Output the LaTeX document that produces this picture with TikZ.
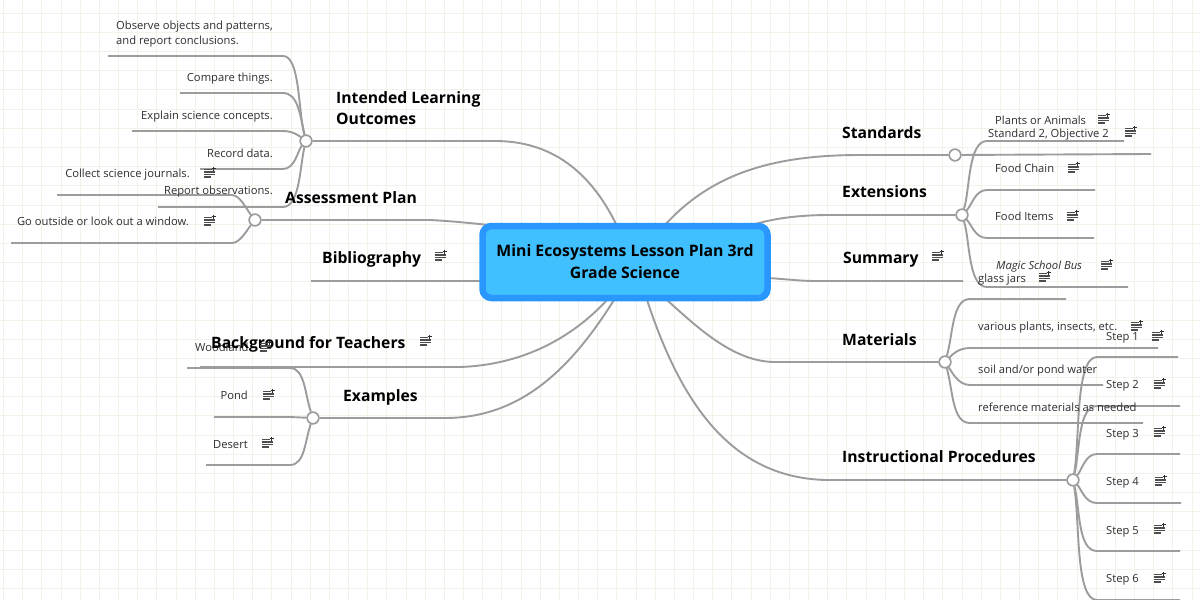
\documentclass[tikz,border=0pt]{standalone}
\usepackage{fontspec}
\setmainfont{Open Sans}
\definecolor{gridc}{HTML}{EEF4E8}
\definecolor{linec}{HTML}{9C9C9C}
\definecolor{boxfill}{HTML}{40C0FF}
\definecolor{boxdraw}{HTML}{2A97FF}
\definecolor{textc}{HTML}{2E2E2E}
\tikzset{centerbox/.style = {
    shape=rectangle, draw=boxdraw, fill=boxfill, line width=6.5pt, rounded corners=9pt,
    minimum width=285pt, minimum height=72pt, align=center, inner sep=0pt,
    font=\fontsize{15.8}{22}\selectfont\bfseries, text=black
}}
\tikzset{branch/.style = {
    shape=rectangle, inner sep=0pt, anchor=mid west, text=black, yshift=-3.5pt,
    font=\fontsize{15.7}{21.5}\selectfont\bfseries
}}
\tikzset{leaf/.style = {
    shape=rectangle, inner sep=0pt, text=textc, yshift=-2pt,
    font=\fontsize{11.2}{15}\selectfont
}}
\tikzset{knot/.style = {
    shape=circle, draw=linec, fill=white, line width=1.5pt, minimum size=11.5pt, inner sep=0pt
}}
\tikzset{twig/.style = {draw=linec, line width=1.9pt, line join=round}}
\tikzset{noteicon/.pic = {
    \draw[textc!85, line width=1.2pt] (-6,-3.5) -- (1.5,-3.5) (-6,-1) -- (4.5,-1) (-6,1.5) -- (4.5,1.5) (-6,4) -- (1,4);
    \draw[textc, line width=1pt] (3.5,-6.5) -- (3.5,-2.5) (1.5,-4.5) -- (5.5,-4.5);
}}

\begin{document}
\begin{tikzpicture}[x=1pt,y=-1pt]
  \useasboundingbox (0,0) rectangle (1200,600);
  \fill[white] (0,0) rectangle (1200,600);
  \foreach \k in {0,...,62} {
    \draw[gridc, line width=1pt] ({3.5+19.17*\k},0) -- ({3.5+19.17*\k},600);
  }
  \foreach \k in {0,...,31} {
    \draw[gridc, line width=1pt] (0,{13.3+19.17*\k}) -- (1200,{13.3+19.17*\k});
  }

  % junctions
  \node (intended) at (306,141) [knot] {};
  \node (assess) at (255,220) [knot] {};
  \node (examples) at (313,418) [knot] {};
  \node (standards) at (955,155) [knot] {};
  \node (extensions) at (962,215) [knot] {};
  \node (materials) at (945,362) [knot] {};
  \node (procedures) at (1073,480) [knot] {};

  % where the branches meet the box
  \coordinate (c1) at (617,226);
  \coordinate (c2) at (489,225);
  \coordinate (c3) at (482,281);
  \coordinate (c4) at (607,300);
  \coordinate (c5) at (614,300);
  \coordinate (c6) at (664,226);
  \coordinate (c7) at (752,225);
  \coordinate (c8) at (768,278);
  \coordinate (c9) at (667,300);
  \coordinate (c10) at (647,300);

  % main branches
  \draw[twig] (intended) -- (495,141) .. controls (550,141) and (590,170) .. (c1);
  \draw[twig] (assess) -- (430,220) .. controls (450,221) and (470,223) .. (c2);
  \draw[twig] (311,281) -- (c3);
  \draw[twig] (200,367) -- (460,367) .. controls (520,365) and (570,340) .. (c4);
  \draw[twig] (examples) -- (445,418) .. controls (520,418) and (570,370) .. (c5);
  \draw[twig] (standards) -- (860,155) .. controls (770,155) and (710,175) .. (c6);
  \draw[twig] (extensions) -- (830,215) .. controls (800,215) and (775,218) .. (c7);
  \draw[twig] (963,281) -- (815,281) .. controls (800,281) and (785,279) .. (c8);
  \draw[twig] (materials) -- (775,362) .. controls (735,362) and (700,330) .. (c9);
  \draw[twig] (procedures) -- (830,480) .. controls (730,480) and (680,400) .. (c10);

  % outcomes
  \draw[twig] (intended) .. controls (298,110) and (300,56) .. (283,56) -- (108,56);
  \draw[twig] (intended) .. controls (300,115) and (298,93) .. (283,93) -- (180,93);
  \draw[twig] (intended) .. controls (298,135) and (292,131) .. (283,131) -- (132,131);
  \draw[twig] (intended) .. controls (298,150) and (295,169) .. (283,169) -- (200,169);
  \draw[twig] (intended) .. controls (300,165) and (300,207) .. (283,207) -- (158,207);
  % assessment
  \draw[twig] (assess) .. controls (247,210) and (240,195) .. (232,195) -- (57,195);
  \draw[twig] (assess) .. controls (247,230) and (240,243) .. (232,243) -- (11,243);
  % examples
  \draw[twig] (examples) .. controls (305,395) and (305,368) .. (290,368) -- (187,368);
  \draw[twig] (examples) -- (290,417) -- (214,417);
  \draw[twig] (examples) .. controls (305,440) and (305,465) .. (290,465) -- (206,465);
  % standards and extensions
  \draw[twig] (standards) -- (1151,154);
  \draw[twig] (extensions) .. controls (970,190) and (968,141) .. (987,141) -- (1124,141);
  \draw[twig] (extensions) .. controls (972,205) and (975,190) .. (987,190) -- (1095,190);
  \draw[twig] (extensions) .. controls (972,225) and (975,238) .. (987,238) -- (1094,238);
  \draw[twig] (extensions) .. controls (970,240) and (968,287) .. (987,287) -- (1128,287);
  % materials
  \draw[twig] (materials) .. controls (953,335) and (952,299) .. (970,299) -- (1066,299);
  \draw[twig] (materials) .. controls (952,355) and (958,348) .. (970,348) -- (1158,348);
  \draw[twig] (materials) .. controls (952,372) and (958,385) .. (970,385) -- (1103,385);
  \draw[twig] (materials) .. controls (953,390) and (952,423) .. (970,423) -- (1143,423);
  % procedures
  \draw[twig] (procedures) .. controls (1080,440) and (1075,357) .. (1097,357) -- (1178,357);
  \draw[twig] (procedures) .. controls (1080,450) and (1078,406) .. (1097,406) -- (1180,406);
  \draw[twig] (procedures) .. controls (1082,470) and (1085,454) .. (1097,454) -- (1180,454);
  \draw[twig] (procedures) .. controls (1082,490) and (1085,503) .. (1097,503) -- (1181,503);
  \draw[twig] (procedures) .. controls (1080,510) and (1078,551) .. (1097,551) -- (1180,551);
  \draw[twig] (procedures) .. controls (1080,520) and (1075,600) .. (1097,600) -- (1180,600);

  % redraw junctions on top
  \foreach \n in {intended,assess,examples,standards,extensions,materials,procedures} {
    \node at (\n) [knot] {};
  }

  \node (center) at (625,262) [centerbox] {\raisebox{-1pt}{Mini Ecosystems Lesson Plan 3rd}\\\raisebox{-1pt}{Grade Science}};

  % branch labels
  \node (t1) at (336,108) [branch, anchor=west, align=left, yshift=3.5pt] {Intended Learning\\Outcomes};
  \node (t2) at (285,197) [branch] {Assessment Plan};
  \node (t3) at (322,257) [branch] {Bibliography};
  \node (t5) at (195,347) [leaf, anchor=mid west] {Woodland};
  \node (t4) at (211,342) [branch] {Background for Teachers};
  \node (t6) at (343,395) [branch] {Examples};
  \node (t7) at (842,132) [branch] {Standards};
  \node (t8) at (842,191) [branch] {Extensions};
  \node (t9) at (843,257) [branch] {Summary};
  \node (t10) at (842,339) [branch] {Materials};
  \node (t11) at (842,456) [branch] {Instructional Procedures};

  % left leaves
  \node (l1) at (116,32) [leaf, anchor=west, align=left] {Observe objects and patterns,\\and report conclusions.};
  \node (l2) at (273,77) [leaf, anchor=mid east] {Compare things.};
  \node (l3) at (273,115) [leaf, anchor=mid east] {Explain science concepts.};
  \node (l4) at (273,153) [leaf, anchor=mid east] {Record data.};
  \node (l5) at (273,190) [leaf, anchor=mid east] {Report observations.};
  \node (l6) at (190,173) [leaf, anchor=mid east] {Collect science journals.};
  \node (l7) at (189,221) [leaf, anchor=mid east] {Go outside or look out a window.};
  \node (l8) at (248,395) [leaf, anchor=mid east] {Pond};
  \node (l9) at (248,444) [leaf, anchor=mid east] {Desert};

  % right leaves
  \node (r1) at (995,120) [leaf, anchor=mid west] {Plants or Animals};
  \node (r2) at (988,133) [leaf, anchor=mid west] {Standard 2, Objective 2};
  \node (r3) at (995,168) [leaf, anchor=mid west] {Food Chain};
  \node (r4) at (995,216) [leaf, anchor=mid west] {Food Items};
  \node (r5) at (996,265) [leaf, anchor=mid west] {\itshape Magic School Bus};
  \node (r6) at (978,278) [leaf, anchor=mid west] {glass jars};
  \node (r7) at (978,326) [leaf, anchor=mid west] {various plants, insects, etc.};
  \node (r8) at (978,369) [leaf, anchor=mid west] {soil and/or pond water};
  \node (r9) at (978,407) [leaf, anchor=mid west] {reference materials as needed};
  \node (s1) at (1106,336) [leaf, anchor=mid west] {Step 1};
  \node (s2) at (1106,384) [leaf, anchor=mid west] {Step 2};
  \node (s3) at (1106,433) [leaf, anchor=mid west] {Step 3};
  \node (s4) at (1106,481) [leaf, anchor=mid west] {Step 4};
  \node (s5) at (1106,530) [leaf, anchor=mid west] {Step 5};
  \node (s6) at (1106,578) [leaf, anchor=mid west] {Step 6};

  % note icons
  \foreach \x/\y in {210/173,210/221,441/256,426/341,266/347,269/395,268/443,
    1104/119,1131/132,1074/168,1073/216,1107/265,1045/277,938/256,1137/326,
    1158/336,1160/384,1160/432,1161/481,1160/529,1160/578} {
    \pic at (\x,\y) {noteicon};
  }
\end{tikzpicture}
\end{document}
